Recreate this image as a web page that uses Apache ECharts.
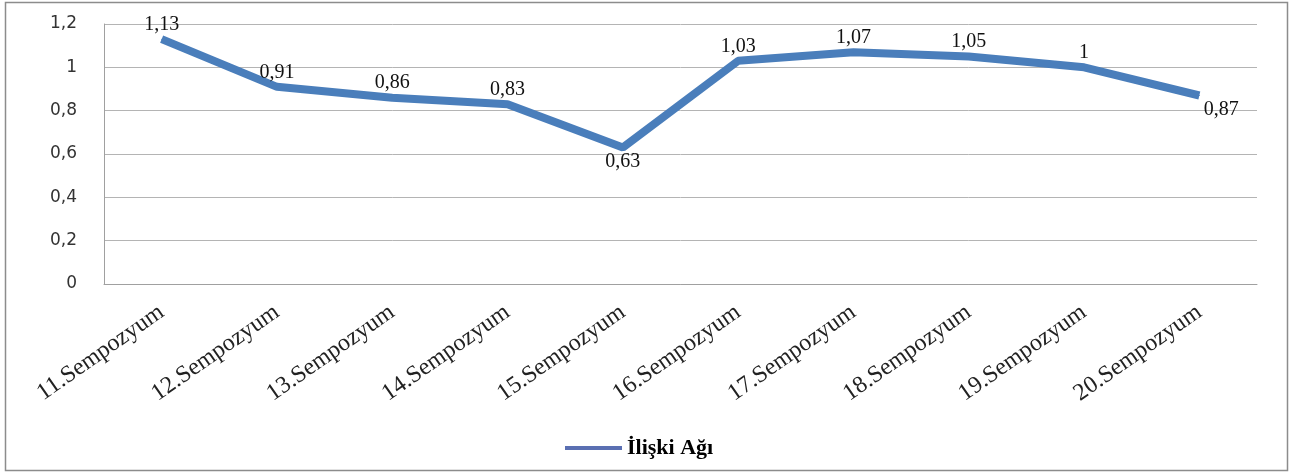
<!DOCTYPE html>
<html><head><meta charset="utf-8">
<script src="https://cdn.jsdelivr.net/npm/echarts@6/dist/echarts.min.js"></script>
<style>html,body{margin:0;padding:0;background:#fff}#c{width:1293px;height:474px}</style>
</head><body><div id="c"></div>
<script>
const categories = ['11.Sempozyum','12.Sempozyum','13.Sempozyum','14.Sempozyum','15.Sempozyum','16.Sempozyum','17.Sempozyum','18.Sempozyum','19.Sempozyum','20.Sempozyum'];
const values = [1.13, 0.91, 0.86, 0.83, 0.63, 1.03, 1.07, 1.05, 1, 0.87];
const labelPositions = ['top','top','top','top','bottom','top','top','top','top','bottom'];
const seriesName = 'İlişki Ağı';

const fmt = v => String(v).replace('.', ',');
const chart = echarts.init(document.getElementById('c'));
chart.setOption({
  animation: false,
  graphic: [{type:'rect', shape:{x:5.5,y:2.5,width:1282,height:468}, style:{fill:null, stroke:'#8c8c8c', lineWidth:1.5}, silent:true}],
  grid: {left:104, right:36, top:24, bottom:190, containLabel:false},
  legend: {top:432, left:560, itemWidth:57, itemHeight:4, icon:'rect', itemGap:8,
    textStyle:{fontFamily:'Liberation Serif', fontWeight:'bold', fontSize:22, color:'#000'},
    data:[{name:seriesName, itemStyle:{color:'#5a6fb2'}}]},
  xAxis: {type:'category', data:categories, boundaryGap:true,
    axisLine:{lineStyle:{color:'#a0a0a0'}}, axisTick:{show:false},
    axisLabel:{rotate:35, interval:0, margin:26, fontFamily:'Liberation Serif', fontSize:24, color:'#222'}},
  yAxis: {type:'value', min:0, max:1.2, interval:0.2,
    axisLine:{show:true, lineStyle:{color:'#a0a0a0'}}, axisTick:{show:false},
    splitLine:{lineStyle:{color:'#b4b4b4'}},
    axisLabel:{margin:27, fontFamily:'DejaVu Sans', fontSize:17, color:'#333', formatter:v=>fmt(Math.round(v*10)/10)}},
  series: [{name:seriesName, type:'line',
    data:values.map((v,i)=>({value:v, label:{position:labelPositions[i], offset: i===values.length-1?[22,0]:[0,0]}})),
    symbol:'circle', symbolSize:1, showSymbol:true, lineStyle:{width:8, color:'#4a7ebb'}, itemStyle:{color:'#4a7ebb'},
    label:{show:true, fontFamily:'Liberation Serif', fontSize:20, color:'#111', distance:4, formatter:p=>fmt(p.value)}}]
});
</script></body></html>
